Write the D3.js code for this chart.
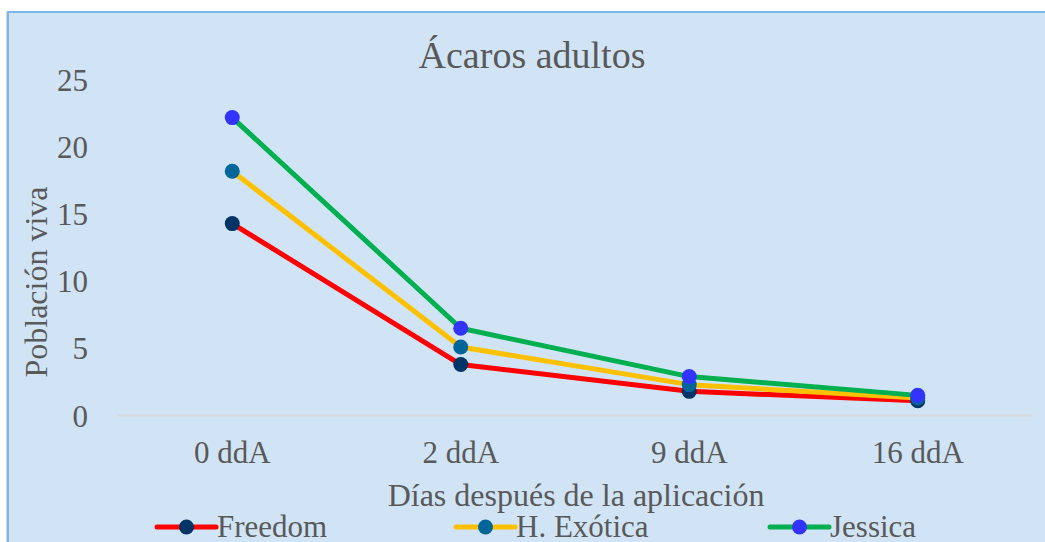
<!DOCTYPE html>
<html><head><meta charset="utf-8">
<script src="https://cdn.jsdelivr.net/npm/d3@7"></script>
<style>html,body{margin:0;padding:0;background:#fff;overflow:hidden}</style>
</head><body>
<svg id="c" width="1045" height="542"></svg>
<script>
const categories = ["0 ddA", "2 ddA", "9 ddA", "16 ddA"];
const freedom = [14.3, 3.8, 1.8, 1.1];
const hExotica = [18.2, 5.1, 2.3, 1.3];
const jessica = [22.2, 6.5, 2.9, 1.5];
const seriesNames = ["Freedom", "H. Exótica", "Jessica"];
const yTicks = [0, 5, 10, 15, 20, 25];

const series = [
  {name: seriesNames[0], values: freedom, line: "#ff0000", marker: "#003366"},
  {name: seriesNames[1], values: hExotica, line: "#ffc000", marker: "#00669a"},
  {name: seriesNames[2], values: jessica, line: "#00b050", marker: "#3333ff"}
];

const svg = d3.select("#c");
const font = "'Liberation Serif','Times New Roman',serif";
const txt = "#595959";

svg.append("rect").attr("x", 8).attr("y", 12).attr("width", 1045).attr("height", 560)
  .attr("fill", "#d0e4f6").attr("stroke", "#7db6e8").attr("stroke-width", 2);
svg.append("line").attr("x1", 6.5).attr("x2", 6.5).attr("y1", 12).attr("y2", 542)
  .attr("stroke", "#c8d8e8").attr("stroke-width", 1);

const x = d3.scaleBand().domain(categories).range([118, 1032]);
const y = d3.scaleLinear().domain([0, 25]).range([415.5, 80]);

// baseline
svg.append("line").attr("x1", 118).attr("x2", 1032).attr("y1", y(0)).attr("y2", y(0))
  .attr("stroke", "#d9d9d9").attr("stroke-width", 2);

// y axis labels
const yAxis = d3.axisLeft(y).tickValues(yTicks).tickSize(0).tickPadding(0);
const gy = svg.append("g").attr("transform", "translate(88,0)").call(yAxis);
gy.select(".domain").remove();
gy.selectAll("text").attr("font-family", font).attr("font-size", 31).attr("fill", txt)
  .attr("text-anchor", "end").attr("dy", "0.34em");

// x axis labels
const xAxis = d3.axisBottom(x).tickSize(0).tickPadding(0);
const gx = svg.append("g").attr("transform", "translate(0,463)").call(xAxis);
gx.select(".domain").remove();
gx.selectAll("text").attr("font-family", font).attr("font-size", 31).attr("fill", txt).attr("dy", "0");

// title
svg.append("text").attr("x", 532).attr("y", 68).attr("text-anchor", "middle")
  .attr("font-family", font).attr("font-size", 38).attr("fill", txt).text("Ácaros adultos");
// axis titles
svg.append("text").attr("x", 576).attr("y", 506).attr("text-anchor", "middle")
  .attr("font-family", font).attr("font-size", 32).attr("fill", txt).text("Días después de la aplicación");
svg.append("text").attr("transform", "translate(47,282) rotate(-90)").attr("text-anchor", "middle")
  .attr("font-family", font).attr("font-size", 32).attr("fill", txt).text("Población viva");

const cx = c => x(c) + x.bandwidth() / 2;
const line = d3.line().x((d, i) => cx(categories[i])).y(d => y(d));

series.forEach(s => {
  svg.append("path").datum(s.values).attr("d", line).attr("fill", "none")
    .attr("stroke", s.line).attr("stroke-width", 5).attr("stroke-linejoin", "round");
});
series.forEach(s => {
  svg.selectAll(null).data(s.values).enter().append("circle")
    .attr("cx", (d, i) => cx(categories[i])).attr("cy", d => y(d)).attr("r", 7.5)
    .attr("fill", s.marker);
});

// legend
const legX = [157, 456, 770];
series.forEach((s, i) => {
  const g = svg.append("g").attr("transform", `translate(${legX[i]},527)`);
  g.append("line").attr("x1", 0).attr("x2", 59).attr("y1", 0).attr("y2", 0)
    .attr("stroke", s.line).attr("stroke-width", 5).attr("stroke-linecap", "round");
  g.append("circle").attr("cx", 29.5).attr("cy", 0).attr("r", 7.5).attr("fill", s.marker);
  g.append("text").attr("x", 60).attr("y", 10).attr("font-family", font).attr("font-size", 31)
    .attr("fill", txt).text(s.name);
});
</script>
</body></html>
